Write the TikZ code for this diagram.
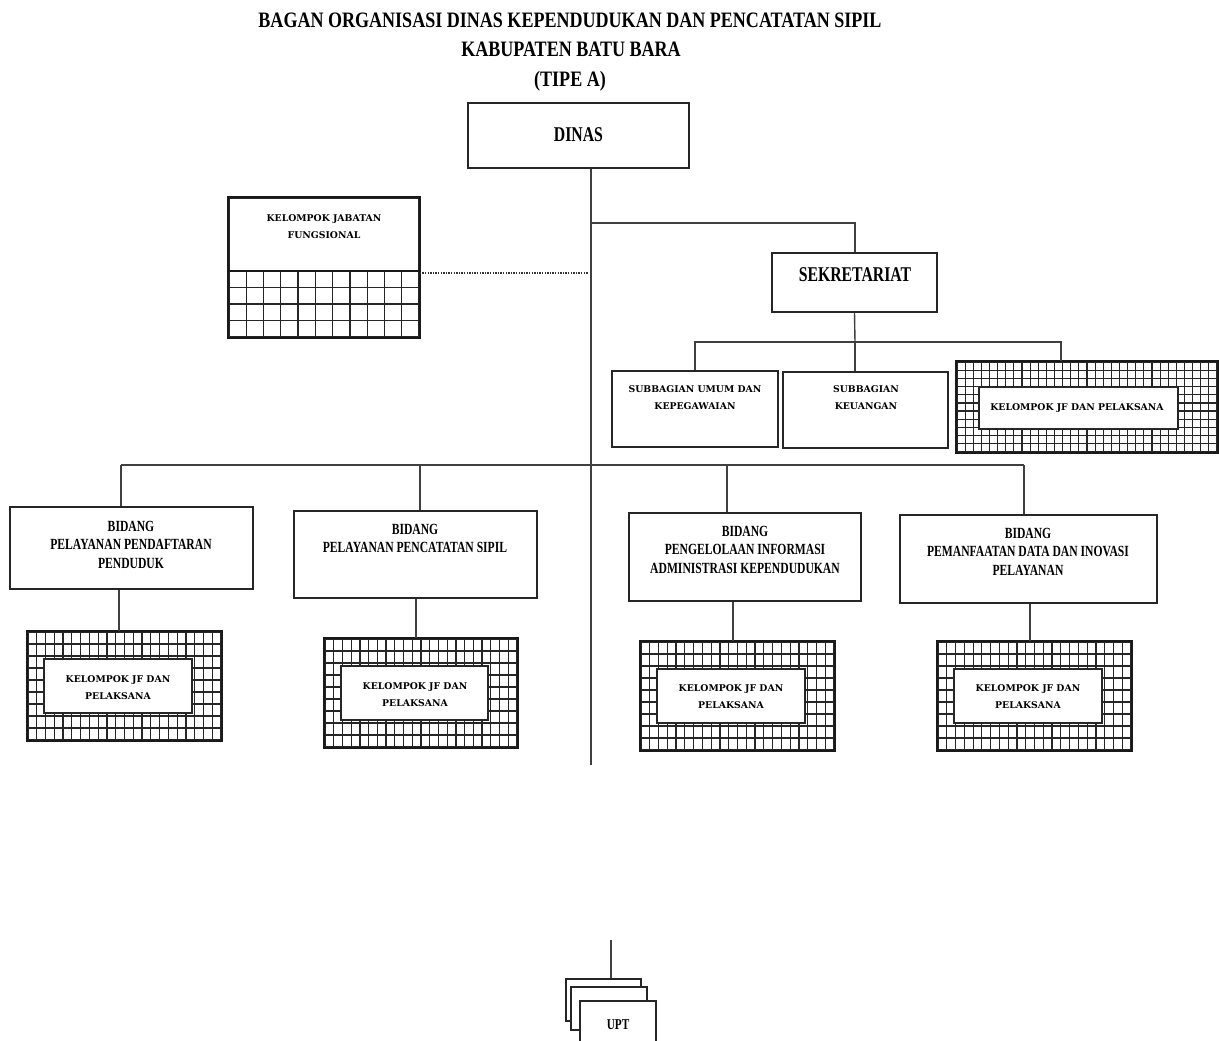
\documentclass[tikz,border=0pt]{standalone}
\usepackage{fontspec}
\setmainfont{Liberation Serif}
\newfontfamily\condf[FakeStretch=0.75]{Liberation Serif}
\newfontfamily\titf[FakeStretch=0.82]{Liberation Serif}
\newfontfamily\slabf{DejaVu Serif}
\newcommand\gridlines[6]{%
  \pgfmathsetmacro\gdx{(#3-#1)/#5}%
  \pgfmathsetmacro\gdy{(#4-#2)/#6}%
  \pgfmathtruncatemacro\gnc{#5-1}%
  \pgfmathtruncatemacro\gnr{#6-1}%
  \foreach \gi in {1,...,\gnc}{\draw[gridln] ({#1+\gi*\gdx},#2) -- ({#1+\gi*\gdx},#4);}%
  \foreach \gi in {1,...,\gnr}{\draw[gridln] (#1,{#2+\gi*\gdy}) -- (#3,{#2+\gi*\gdy});}%
}
\tikzset{
  bx/.style={draw=black!85, line width=1.6pt, fill=white, inner sep=0pt},
  border/.style={draw=black!90, line width=2pt},
  gridln/.style={draw=black!85, line width=1.2pt},
  conn/.style={draw=black!75, line width=1.4pt},
  ttl/.style={font=\titf\bfseries\fontsize{22}{26}\selectfont, anchor=base, inner sep=0pt},
  tbig/.style={font=\condf\bfseries\fontsize{21}{25}\selectfont, anchor=base, inner sep=0pt},
  tmid/.style={font=\condf\bfseries\fontsize{15.5}{19}\selectfont, anchor=base, inner sep=0pt},
  tsm/.style={font=\slabf\bfseries\fontsize{9.3}{11}\selectfont, anchor=base, inner sep=0pt},
}
\begin{document}
\begin{tikzpicture}[x=1pt,y=-1pt]
\clip (0,0) rectangle (1219,1041);
\fill[white] (0,0) rectangle (1219,1041);

% title
\node[ttl] (t1) at (570,28) {BAGAN ORGANISASI DINAS KEPENDUDUKAN DAN PENCATATAN SIPIL};
\node[ttl] (t2) at (571,57) {KABUPATEN BATU BARA};
\node[ttl] (t3) at (570,86) {(TIPE A)};

% coordinates for connectors
\coordinate (tk) at (591,765);
\coordinate (j1) at (591,223);
\coordinate (dj) at (588,273);
\coordinate (sh) at (855,342);
\coordinate (sb) at (1061,342);
\coordinate (bus0) at (121,465);
\coordinate (bus1) at (420,465);
\coordinate (bus2) at (727,465);
\coordinate (bus3) at (1024,465);
\coordinate (d1) at (119,0);
\coordinate (d2) at (416,0);
\coordinate (d3) at (733,0);
\coordinate (d4) at (1030,0);
\coordinate (u0) at (611,940);

% DINAS
\node[bx, minimum width=221pt, minimum height=65pt] (dinas) at (578.5,135.5) {};
\node[tbig] (tdinas) at (578.5,141) {DINAS};

% trunk
\draw[conn] (dinas.south -| tk) -- (tk);
\draw[conn] (j1) -| (sh |- 0,253);

% SEKRETARIAT
\node[bx, minimum width=165pt, minimum height=59pt] (sek) at (854.5,282.5) {};
\node[tbig] (tsek) at (855,281) {SEKRETARIAT};

% Kelompok Jabatan Fungsional
\node[bx, minimum width=190pt, minimum height=139pt] (kjf) at (324,267.5) {};
\gridlines{229}{271}{419}{337}{11}{4}
\draw[border] (kjf.south west) rectangle (kjf.north east);
\draw[border] (kjf.west |- 0,271) -- (kjf.east |- 0,271);
\node[tsm] (tkjf1) at (324,221) {KELOMPOK JABATAN};
\node[tsm] (tkjf2) at (324,238) {FUNGSIONAL};
\draw[draw=black!80, line width=2.4pt, dash pattern=on 1.4pt off 1.2pt] (kjf.east |- dj) -- (dj);

% sekretariat children
\draw[conn] (sek.south) -- (sh);
\node[bx, minimum width=166pt, minimum height=76pt] (sub1) at (695,409) {};
\node[bx, minimum width=165pt, minimum height=76pt] (sub2) at (865.5,410) {};
\node[bx, minimum width=260pt, minimum height=90pt] (sekjf) at (1087,407) {};
\gridlines{957}{362}{1217}{452}{32}{11}
\draw[border] (sekjf.south west) rectangle (sekjf.north east);
\node[bx, minimum width=199pt, minimum height=42pt] (sekjfin) at (1078.5,408) {};
\draw[conn] (sub1.north) |- (sb) -- (sb |- sekjf.north);
\draw[conn] (sh) -- (sh |- sub2.north);
\node[tsm] (ts11) at (695,392) {SUBBAGIAN UMUM DAN};
\node[tsm] (ts12) at (695,409) {KEPEGAWAIAN};
\node[tsm] (ts21) at (866,392) {SUBBAGIAN};
\node[tsm] (ts22) at (866,409) {KEUANGAN};
\node[tsm] (tsj) at (1077,410) {KELOMPOK JF DAN PELAKSANA};

% bidang bus
\draw[conn] (bus0) -- (bus3);
\node[bx, minimum width=243pt, minimum height=82pt] (b1) at (131.5,548) {};
\node[bx, minimum width=243pt, minimum height=87pt] (b2) at (415.5,554.5) {};
\node[bx, minimum width=232pt, minimum height=88pt] (b3) at (745,557) {};
\node[bx, minimum width=257pt, minimum height=88pt] (b4) at (1028.5,559) {};
\draw[conn] (bus0) -- (bus0 |- b1.north);
\draw[conn] (bus1) -- (bus1 |- b2.north);
\draw[conn] (bus2) -- (bus2 |- b3.north);
\draw[conn] (bus3) -- (bus3 |- b4.north);

\node[tmid] (tb11) at (131,531) {BIDANG};
\node[tmid] (tb12) at (131,549.5) {PELAYANAN PENDAFTARAN};
\node[tmid] (tb13) at (131,568) {PENDUDUK};
\node[tmid] (tb21) at (415,534) {BIDANG};
\node[tmid] (tb22) at (415,552.5) {PELAYANAN PENCATATAN SIPIL};
\node[tmid] (tb31) at (745,536) {BIDANG};
\node[tmid] (tb32) at (745,554.5) {PENGELOLAAN INFORMASI};
\node[tmid] (tb33) at (745,573) {ADMINISTRASI KEPENDUDUKAN};
\node[tmid] (tb41) at (1028,538) {BIDANG};
\node[tmid] (tb42) at (1028,556.5) {PEMANFAATAN DATA DAN INOVASI};
\node[tmid] (tb43) at (1028,575) {PELAYANAN};

% kelompok JF under bidang
\node[bx, minimum width=193pt, minimum height=108pt] (jf1) at (124.5,686) {};
\gridlines{28}{632}{221}{740}{22}{9}
\draw[border] (jf1.south west) rectangle (jf1.north east);
\node[bx, minimum width=148pt, minimum height=54pt] (jf1in) at (118,686) {};
\node[tsm] (tj11) at (118,682) {KELOMPOK JF DAN};
\node[tsm] (tj12) at (118,699) {PELAKSANA};

\node[bx, minimum width=192pt, minimum height=108pt] (jf2) at (421,693) {};
\gridlines{325}{639}{517}{747}{22}{9}
\draw[border] (jf2.south west) rectangle (jf2.north east);
\node[bx, minimum width=147pt, minimum height=54pt] (jf2in) at (414.5,693) {};
\node[tsm] (tj21) at (415,689) {KELOMPOK JF DAN};
\node[tsm] (tj22) at (415,706) {PELAKSANA};

\node[bx, minimum width=193pt, minimum height=108pt] (jf3) at (737.5,696) {};
\gridlines{641}{642}{834}{750}{22}{9}
\draw[border] (jf3.south west) rectangle (jf3.north east);
\node[bx, minimum width=148pt, minimum height=54pt] (jf3in) at (731,696) {};
\node[tsm] (tj31) at (731,691) {KELOMPOK JF DAN};
\node[tsm] (tj32) at (731,708) {PELAKSANA};

\node[bx, minimum width=193pt, minimum height=108pt] (jf4) at (1034.5,696) {};
\gridlines{938}{642}{1131}{750}{22}{9}
\draw[border] (jf4.south west) rectangle (jf4.north east);
\node[bx, minimum width=148pt, minimum height=54pt] (jf4in) at (1028,696) {};
\node[tsm] (tj41) at (1028,691) {KELOMPOK JF DAN};
\node[tsm] (tj42) at (1028,708) {PELAKSANA};

\draw[conn] (d1 |- b1.south) -- (d1 |- jf1.north);
\draw[conn] (d2 |- b2.south) -- (d2 |- jf2.north);
\draw[conn] (d3 |- b3.south) -- (d3 |- jf3.north);
\draw[conn] (d4 |- b4.south) -- (d4 |- jf4.north);

% UPT stack
\node[bx, line width=1.3pt, minimum width=75pt, minimum height=42pt] (upt1) at (603.5,1000) {};
\node[bx, line width=1.3pt, minimum width=76pt, minimum height=43pt] (upt2) at (609,1008.5) {};
\node[bx, line width=1.3pt, minimum width=76pt, minimum height=50pt] (upt3) at (618,1026) {};
\draw[conn] (u0) -- (u0 |- upt1.north);
\node[tsm, font=\condf\bfseries\fontsize{15}{18}\selectfont] (tupt) at (618,1029) {UPT};
\end{tikzpicture}
\end{document}
